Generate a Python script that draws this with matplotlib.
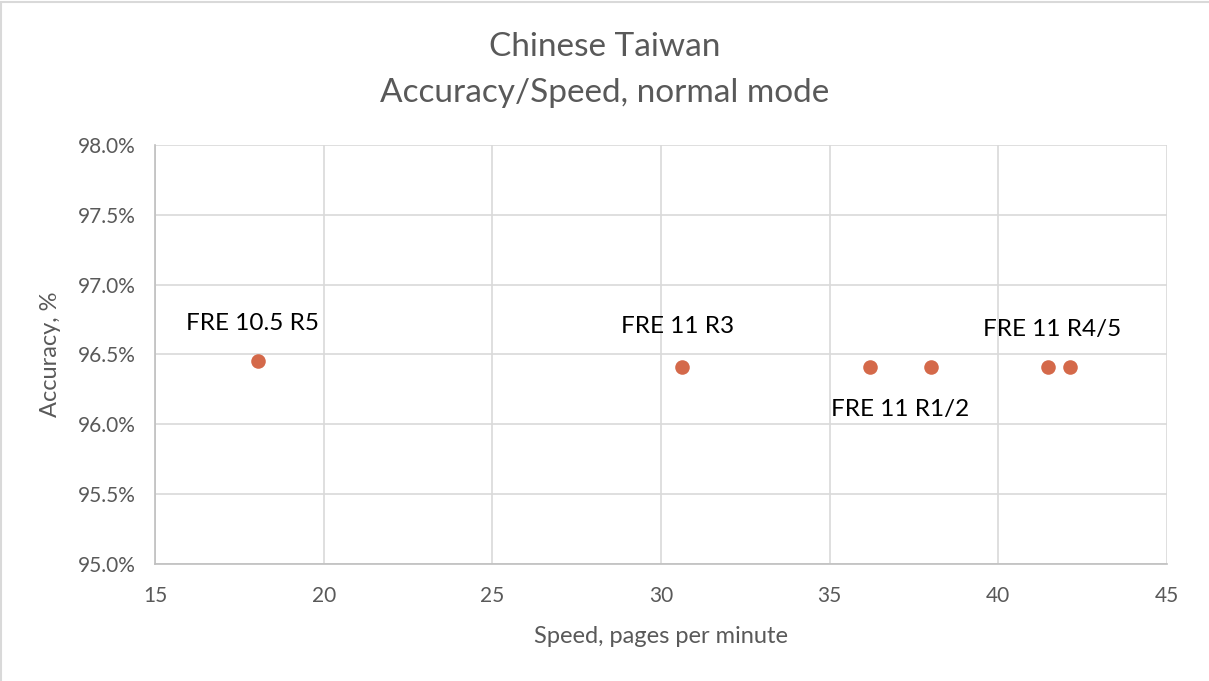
import matplotlib.pyplot as plt
from matplotlib.patches import Rectangle
from matplotlib.ticker import FuncFormatter

plt.rcParams['font.family'] = ['Lato', 'DejaVu Sans']

# data
speed = [18.05, 30.62, 36.2, 38.0, 41.47, 42.13]
accuracy = [96.45, 96.41, 96.41, 96.41, 96.41, 96.41]

# labels: text, x anchor, y anchor, offset in pixels
labels = ['FRE 10.5 R5', 'FRE 11 R3', 'FRE 11 R1/2', 'FRE 11 R4/5']
label_x = [18.05, 30.62, 37.1, 41.8]
label_y = [96.45, 96.41, 96.41, 96.41]
label_off = [(-5, 38), (-4, 41), (0, -42), (-7, 38)]

gray = '#595959'

fig = plt.figure(figsize=(12.09, 6.81), dpi=100)
ax = fig.add_axes([0.1282, 0.1718, 0.9653 - 0.1282, 0.7871 - 0.1718])

ax.scatter(speed, accuracy, s=110, color='#D4694A', zorder=3, linewidths=0)

for txt, x, y, off in zip(labels, label_x, label_y, label_off):
    ax.annotate(txt, (x, y), xytext=off, textcoords='offset pixels',
                ha='center', va='center', fontsize=17.5, color='black')

ax.set_xlim(15, 45)
ax.set_ylim(95.0, 98.0)
ax.set_xticks(range(15, 46, 5))
ax.set_yticks([95.0, 95.5, 96.0, 96.5, 97.0, 97.5, 98.0])
ax.yaxis.set_major_formatter(FuncFormatter(lambda v, p: f'{v:.1f}%'))
ax.grid(True, color='#D9D9D9', linewidth=1.2)
ax.set_axisbelow(True)
for s in ['top', 'right']:
    ax.spines[s].set_visible(False)
for s in ['left', 'bottom']:
    ax.spines[s].set_color('#BFBFBF')
    ax.spines[s].set_linewidth(1.2)
ax.tick_params(length=0, labelsize=15, colors=gray)
ax.tick_params(axis='x', pad=16)
ax.tick_params(axis='y', pad=14)

ax.set_xlabel('Speed, pages per minute', fontsize=17, color=gray, labelpad=14)
ax.set_ylabel('Accuracy, %', fontsize=17, color=gray, labelpad=12)

fig.text(0.5, 1 - 47 / 681, 'Chinese Taiwan', ha='center', va='center',
         fontsize=24, color=gray)
fig.text(0.5, 1 - 93 / 681, 'Accuracy/Speed, normal mode', ha='center', va='center',
         fontsize=24, color=gray)

fig.patches.append(Rectangle((0.001, -0.01), 1.1, 1.0075, transform=fig.transFigure,
                             fill=False, edgecolor='#D9D9D9', linewidth=1.5))

fig.savefig('out.png', dpi=100)
